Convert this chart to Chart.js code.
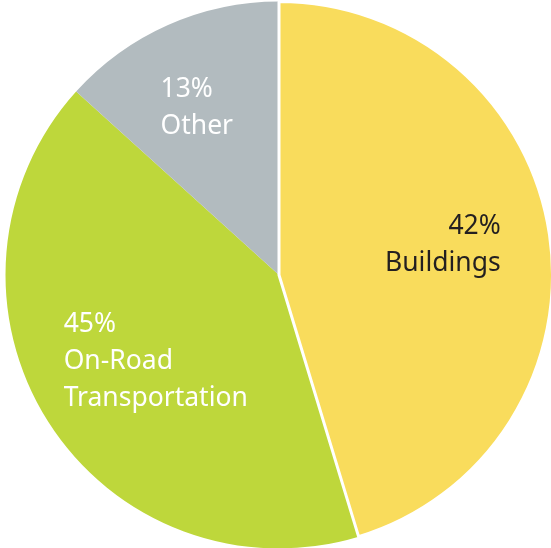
<!DOCTYPE html>
<html>
<head>
<meta charset="utf-8">
<script src="https://cdn.jsdelivr.net/npm/chart.js@4/dist/chart.umd.min.js"></script>
<style>
    html, body { margin: 0; padding: 0; background: #fff; overflow: hidden; }
    #chart { display: block; }
</style>
</head>
<body>
<canvas id="chart" width="558" height="550"></canvas>
<script>
// slice shares as drawn in the picture. Buildings is listed last so it is painted
// on top (its white outline stays whole); the rotation puts it back at 12 o'clock.
const categories = ['On-Road Transportation', 'Other', 'Buildings'];
const sliceShares = [41.4, 13.3, 45.3];
// the percentages printed on the slices
const percentLabels = ['45%', '13%', '42%'];
const labelLines = [['On-Road', 'Transportation'], ['Other'], ['Buildings']];

const sliceColors = ['#BED73B', '#B2BBBF', '#F9DC5C'];
// only the Buildings slice is outlined in white
const sliceBorders = [0, 0, 3];
const labelColors = ['#FFFFFF', '#FFFFFF', '#231F20'];
// where the label block sits: fraction of radius along the slice's middle ray, plus a small nudge in degrees
const labelRadius = [0.55, 0.68, 0.609];
const labelAngleShift = [-2.6, -2.3, -1.9];
const labelAlign = ['left', 'left', 'right'];

const FONT = '26.5px "Noto Sans", sans-serif';
const LINE_HEIGHT = 37;

const total = sliceShares.reduce((a, b) => a + b, 0);
const startRotation = 360 * sliceShares[2] / total;

const sliceLabels = {
    id: 'sliceLabels',
    afterDatasetsDraw(chart) {
        const ctx = chart.ctx;
        const meta = chart.getDatasetMeta(0);
        ctx.save();
        ctx.font = FONT;
        ctx.textBaseline = 'middle';
        meta.data.forEach((arc, i) => {
            const mid = (arc.startAngle + arc.endAngle) / 2 + labelAngleShift[i] * Math.PI / 180;
            const r = arc.outerRadius * labelRadius[i];
            const cx = arc.x + Math.cos(mid) * r;
            const cy = arc.y + Math.sin(mid) * r;

            const lines = [percentLabels[i], ...labelLines[i]];
            const width = Math.max(...lines.map(l => ctx.measureText(l).width));
            let x = cx;
            if (labelAlign[i] === 'right') x = cx + width / 2;
            if (labelAlign[i] === 'left') x = cx - width / 2;

            ctx.fillStyle = labelColors[i];
            ctx.textAlign = labelAlign[i];
            const top = cy - (lines.length - 1) * LINE_HEIGHT / 2;
            lines.forEach((line, k) => {
                ctx.fillText(line, x, top + k * LINE_HEIGHT);
            });
        });
        ctx.restore();
    }
};

new Chart(document.getElementById('chart'), {
    type: 'pie',
    data: {
        labels: categories,
        datasets: [{
            data: sliceShares,
            backgroundColor: sliceColors,
            borderColor: '#FFFFFF',
            borderWidth: sliceBorders
        }]
    },
    options: {
        responsive: false,
        animation: false,
        devicePixelRatio: 1,
        rotation: startRotation,
        layout: { padding: 0 },
        plugins: {
            legend: { display: false },
            tooltip: { enabled: false }
        }
    },
    plugins: [sliceLabels]
});
</script>
</body>
</html>
